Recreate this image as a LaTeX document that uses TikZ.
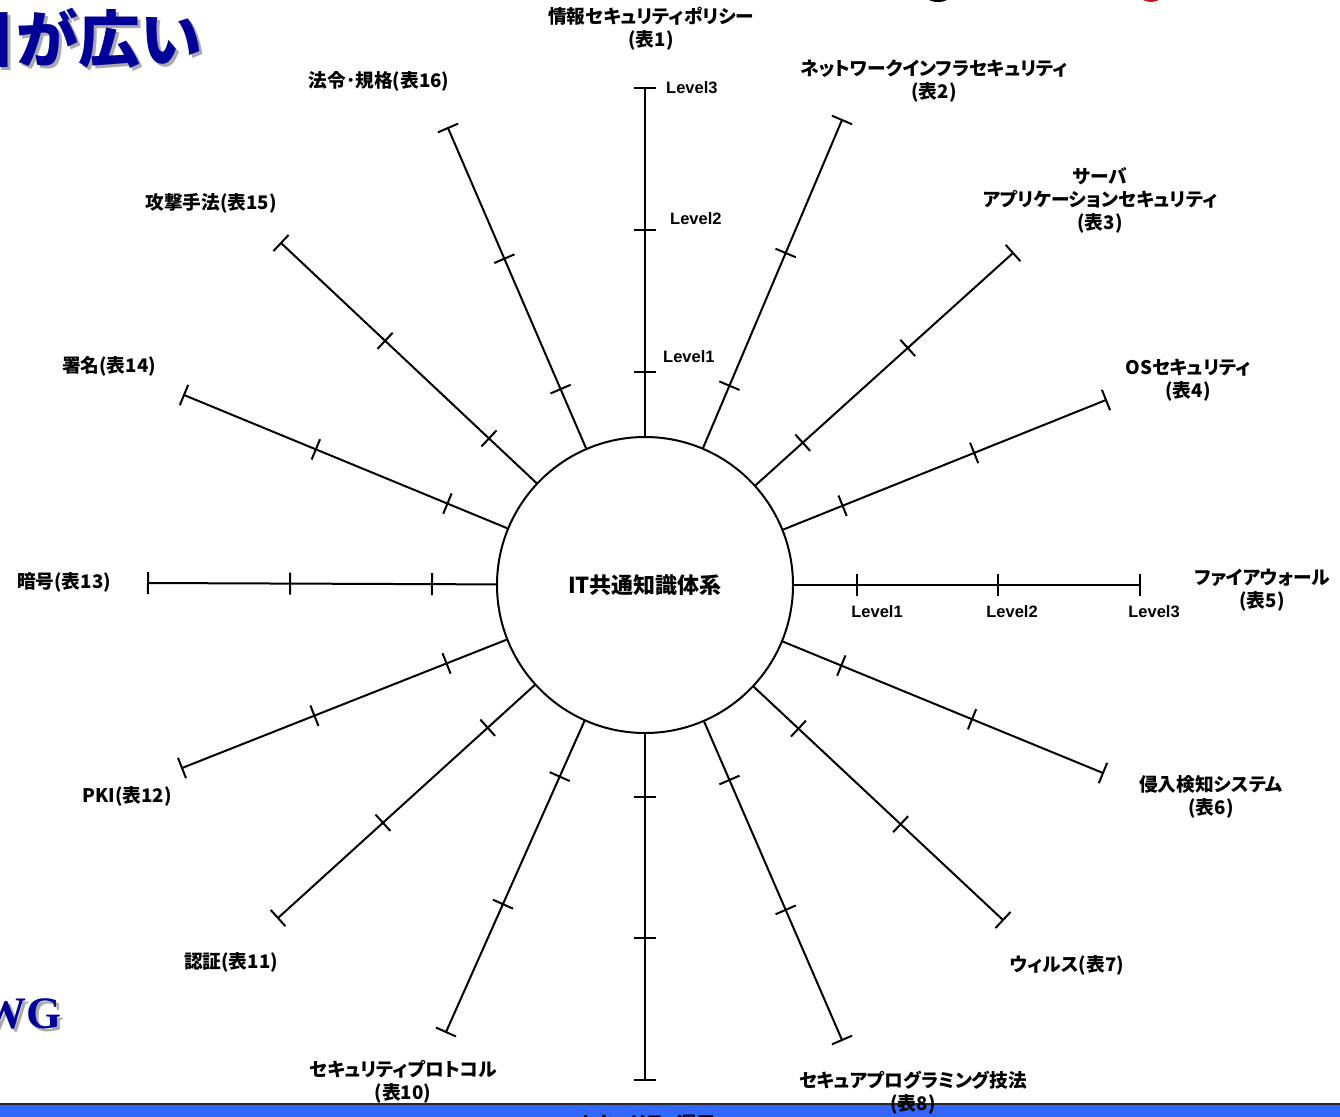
\documentclass[tikz,border=0pt]{standalone}
\usepackage{fontspec}
\usetikzlibrary{calc}
\setmainfont{Liberation Sans}
\newfontfamily\jp{Noto Sans CJK JP}[RawFeature=+palt]
\newfontfamily\jpt{Noto Sans CJK JP}
\newfontfamily\wgfont{Liberation Serif}
\definecolor{titleblue}{RGB}{0,0,153}
\definecolor{barblue}{RGB}{51,102,255}
\definecolor{barline}{RGB}{40,40,40}
\definecolor{shadowgray}{RGB}{170,170,170}
\definecolor{fragred}{RGB}{190,20,30}
\tikzset{
  spoke/.style={line width=2pt, black},
  hub/.style={circle, draw=black, line width=2pt, minimum size=296pt, inner sep=0pt,
    font=\jp\bfseries\fontsize{22}{26}\selectfont},
  lab/.style={align=center, inner sep=0pt, font=\jp\bfseries\fontsize{18.7}{23}\selectfont},
  lvl/.style={inner sep=0pt, font=\bfseries\fontsize{16.5}{20}\selectfont},
}
\begin{document}
\begin{tikzpicture}[x=1pt,y=-1pt]
\useasboundingbox (0,0) rectangle (1340,1116);
\clip (0,0) rectangle (1340,1116);
\fill[white] (0,0) rectangle (1340,1116);

% fragments at the top edge
\fill[black] (938,-6) ellipse [x radius=14pt, y radius=8pt];
\fill[fragred] (1151,-6) ellipse [x radius=12pt, y radius=8pt];

% title fragment
\node[anchor=base east, inner sep=0pt, text=shadowgray, font=\jpt\bfseries\fontsize{62}{62}\selectfont] (titsh) at (206,66) {目が広い};
\node[anchor=base east, inner sep=0pt, text=titleblue, font=\jpt\bfseries\fontsize{62}{62}\selectfont] (tit) at (203,63) {目が広い};

% WG fragment
\node[anchor=base east, inner sep=0pt, text=shadowgray, font=\wgfont\bfseries\fontsize{45}{45}\selectfont] (wgsh) at (65,1031) {WG};
\node[anchor=base east, inner sep=0pt, text=titleblue, font=\wgfont\bfseries\fontsize{45}{45}\selectfont] (wg) at (62,1028) {WG};

% bottom bar
\fill[barblue] (0,1105) rectangle (1340,1125);
\draw[line width=2pt, barline] (0,1104) -- (1340,1104);

% hub
\node[hub] (c) at (645,585) {IT共通知識体系};

% spokes with level ticks
\foreach \px/\py [count=\i] in {645/88, 842/120, 1013/253, 1106/400, 1140/585, 1103/773, 1003/920, 842/1040, 645/1080, 446/1032, 278/918, 182/768, 148/583, 184/395, 281/243, 448/128} {
  \coordinate (e\i) at (\px,\py);
  \draw[spoke] (c) -- (e\i);
  \foreach \f in {0.4286,0.714,1} {
    \draw[spoke] ($(c.center)!\f!(e\i)!11pt!90:(c.center)$) -- ($(c.center)!\f!(e\i)!11pt!-90:(c.center)$);
  }
}

% level labels
\node[lvl, anchor=west] (t3) at (666,88) {Level3};
\node[lvl, anchor=west] (t2) at (670,219) {Level2};
\node[lvl, anchor=west] (t1) at (663,357) {Level1};
\node[lvl] (r1) at (877,612) {Level1};
\node[lvl] (r2) at (1012,612) {Level2};
\node[lvl] (r3) at (1154,612) {Level3};

% topic labels
\node[lab] (l1) at (651,29) {情報セキュリティポリシー\\(表1)};
\node[lab] (l2) at (934,81) {ネットワークインフラセキュリティ\\(表2)};
\node[lab] (l3) at (1100,200) {サーバ\\アプリケーションセキュリティ\\(表3)};
\node[lab] (l4) at (1188,380) {OSセキュリティ\\(表4)};
\node[lab] (l5) at (1262,590) {ファイアウォール\\(表5)};
\node[lab] (l6) at (1211,797) {侵入検知システム\\(表6)};
\node[lab] (l7) at (1067,965) {ウィルス(表7)};
\node[lab] (l8) at (913,1093) {セキュアプログラミング技法\\(表8)};
\node[lab] (l9) at (647,1124) {セキュリティ運用};
\node[lab] (l10) at (403,1082) {セキュリティプロトコル\\(表10)};
\node[lab] (l11) at (231,962) {認証(表11)};
\node[lab] (l12) at (127,796) {PKI(表12)};
\node[lab] (l13) at (64,582) {暗号(表13)};
\node[lab] (l14) at (109,366) {署名(表14)};
\node[lab] (l15) at (211,203) {攻撃手法(表15)};
\node[lab] (l16) at (379,81) {法令･規格(表16)};
\end{tikzpicture}
\end{document}
